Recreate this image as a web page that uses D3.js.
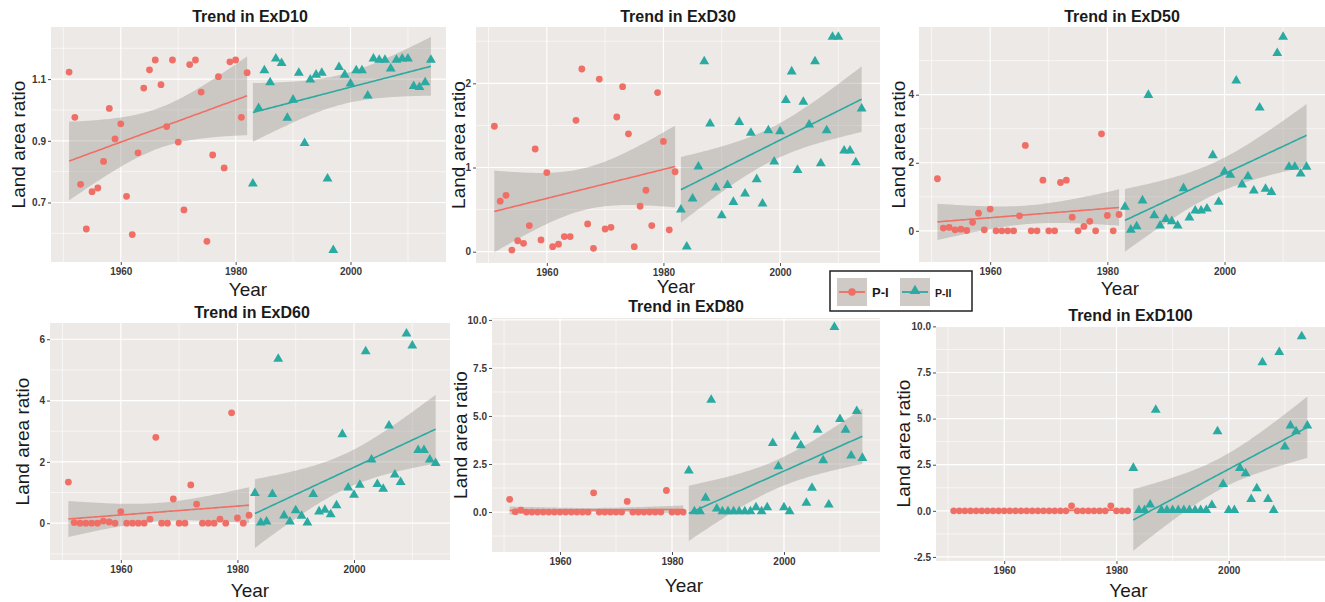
<!DOCTYPE html>
<html><head><meta charset="utf-8">
<script src="https://cdn.jsdelivr.net/npm/d3@7"></script>
<style>body{margin:0;background:#fff;} svg{display:block;font-family:"Liberation Sans",Arial,sans-serif;}</style>
</head><body>
<svg id="chart" width="1325" height="602"></svg>
<script>
// ---------- data ----------
const yearsPI  = [1951,1952,1953,1954,1955,1956,1957,1958,1959,1960,1961,1962,1963,1964,1965,1966,1967,1968,1969,1970,1971,1972,1973,1974,1975,1976,1977,1978,1979,1980,1981,1982];
const yearsPII = [1983,1984,1985,1986,1987,1988,1989,1990,1991,1992,1993,1994,1995,1996,1997,1998,1999,2000,2001,2002,2003,2004,2005,2006,2007,2008,2009,2010,2011,2012,2013,2014];

const exd10PI  = [1.123,0.976,0.759,0.614,0.735,0.747,0.833,1.005,0.906,0.955,0.720,0.596,0.861,1.071,1.130,1.162,1.082,0.946,1.162,0.896,0.676,1.147,1.162,1.058,0.574,0.854,1.108,0.812,1.156,1.162,0.976,1.121];
const exd10PII = [0.761,1.006,1.128,1.089,1.166,1.152,0.974,1.033,1.120,0.892,1.098,1.114,1.120,0.777,0.545,1.139,1.114,1.085,1.128,1.128,1.046,1.166,1.162,1.162,1.134,1.162,1.166,1.166,1.077,1.074,1.089,1.162];

const exd30PI  = [1.49,0.60,0.67,0.02,0.13,0.10,0.31,1.22,0.14,0.94,0.06,0.09,0.18,0.18,1.56,2.17,0.33,0.04,2.05,0.27,0.29,1.60,1.96,1.40,0.06,0.54,0.73,0.31,1.89,1.31,0.26,0.95];
const exd30PII = [0.50,0.06,0.63,1.01,2.26,1.52,0.76,0.43,0.79,0.59,1.54,0.69,1.41,0.86,0.57,1.44,1.07,1.43,1.80,2.14,0.97,1.78,1.51,2.26,1.05,1.44,2.55,2.55,1.20,1.20,1.06,1.70];

const exd50PI  = [1.53,0.08,0.10,0.03,0.05,0.01,0.25,0.52,0.03,0.64,0,0,0,0,0.44,2.51,0,0,1.49,0,0,1.42,1.49,0.40,0,0.13,0.28,0,2.85,0.45,0,0.48];
const exd50PII = [0.70,0.03,0.13,0.89,3.99,0.45,0.15,0.34,0.28,0.15,1.25,0.39,0.59,0.59,0.65,2.22,0.85,1.74,1.64,4.41,1.36,1.60,1.18,3.62,1.23,1.14,5.22,5.70,1.88,1.88,1.68,1.88];

const exd60PI  = [1.34,0.02,0,0,0,0,0.07,0.04,0,0.38,0,0,0,0,0.13,2.80,0,0,0.79,0,0,1.25,0.62,0,0,0,0.13,0,3.60,0.17,0,0.26];
const exd60PII = [0.98,0.02,0.05,0.95,5.36,0.25,0.05,0.42,0.24,0.02,0.95,0.38,0.43,0.29,0.58,2.90,1.16,0.92,1.25,5.60,2.07,1.27,1.12,3.18,1.58,1.34,6.18,5.79,2.38,2.38,2.07,1.96];

const exd80PI  = [0.66,0.02,0.10,0,0,0,0,0,0,0,0,0,0,0,0,1.00,0,0,0,0,0,0.55,0,0,0,0,0,0,1.12,0,0,0];
const exd80PII = [2.15,0.03,0.03,0.73,5.84,0.17,0.03,0.03,0.03,0.03,0.03,0.03,0.24,0.03,0.24,3.59,2.37,0.24,0.03,3.93,3.47,0.47,1.25,4.28,2.69,0.38,9.62,4.83,4.28,2.93,5.25,2.81];

const exd100PI  = [0,0,0,0,0,0,0,0,0,0,0,0,0,0,0,0,0,0,0,0,0,0.27,0,0,0,0,0,0,0.27,0,0,0];
const exd100PII = [2.32,0.03,0.03,0.33,5.47,0.03,0.03,0.03,0.03,0.03,0.03,0.03,0.03,0.03,0.31,4.31,1.45,0.03,0.03,2.32,2.03,0.63,1.21,8.04,0.63,0.03,8.60,3.48,4.62,4.31,9.46,4.62];

const titles = ["Trend in ExD10","Trend in ExD30","Trend in ExD50","Trend in ExD60","Trend in ExD80","Trend in ExD100"];
const seriesPI  = [exd10PI, exd30PI, exd50PI, exd60PI, exd80PI, exd100PI];
const seriesPII = [exd10PII, exd30PII, exd50PII, exd60PII, exd80PII, exd100PII];
const yTicks = [[0.7,0.9,1.1],[0,1,2],[0,2,4],[0,2,4,6],[0,2.5,5,7.5,10],[-2.5,0,2.5,5,7.5,10]];
const yTickLabels = [["0.7","0.9","1.1"],["0","1","2"],["0","2","4"],["0","2","4","6"],["0.0","2.5","5.0","7.5","10.0"],["-2.5","0.0","2.5","5.0","7.5","10.0"]];
const yLimits = [[0.507,1.269],[-0.134,2.669],[-0.916,5.99],[-1.2,6.53],[-2.08,10.1],[-2.72,10.02]];
const xTicks = [1960,1980,2000];
const xMinor = [1950,1970,1990,2010];
const xLimits = [1947.85,2017.15];
const groupNames = ["P-I","P-II"];

// ---------- styles / layout ----------
const RED = "#EF6F66", TEAL = "#2BAAA2", BG = "#ECE9E6", RIB = "#9a948f";
const layout = [
  {l:51,  r:449, vis:446, t:27,  b:262, titleY:22,  tickY:275, yearY:296, ylabX:18},
  {l:476, r:880, vis:880, t:27,  b:263, titleY:22,  tickY:275, yearY:293, ylabX:458},
  {l:919, r:1325,vis:1325,t:27,  b:262, titleY:22,  tickY:275, yearY:295, ylabX:898},
  {l:50,  r:454, vis:450, t:323, b:560, titleY:318, tickY:572, yearY:597, ylabX:22},
  {l:492, r:880, vis:880, t:318, b:552, titleY:312, tickY:565, yearY:592, ylabX:460},
  {l:936, r:1325,vis:1325,t:326, b:561, titleY:321, tickY:574, yearY:597, ylabX:903}
];

const svg = d3.select("#chart");

function lmFit(xs, ys){
  const n = xs.length, xb = d3.mean(xs), yb = d3.mean(ys);
  let sxx=0, sxy=0; xs.forEach((x,i)=>{sxx+=(x-xb)**2; sxy+=(x-xb)*(ys[i]-yb);});
  const b = sxy/sxx, a = yb - b*xb;
  let sse=0; xs.forEach((x,i)=>{sse+=(ys[i]-a-b*x)**2;});
  const s = Math.sqrt(sse/(n-2)), t = 2.042;
  const xmin = d3.min(xs), xmax = d3.max(xs);
  const pts = [];
  for(let k=0;k<80;k++){
    const x = xmin + (xmax-xmin)*k/79;
    const yh = a + b*x, se = s*Math.sqrt(1/n + (x-xb)**2/sxx);
    pts.push({x, y:yh, lo:yh - t*se, hi:yh + t*se});
  }
  return pts;
}

titles.forEach((title, i) => {
  const L = layout[i];
  const x = d3.scaleLinear().domain(xLimits).range([L.l, L.r]);
  const y = d3.scaleLinear().domain(yLimits[i]).range([L.b, L.t]);
  const g = svg.append("g");
  const cid = "clip"+i;
  g.append("clipPath").attr("id",cid).append("rect")
    .attr("x",L.l).attr("y",L.t).attr("width",L.vis-L.l).attr("height",L.b-L.t);
  const pg = g.append("g").attr("clip-path",`url(#${cid})`);
  pg.append("rect").attr("x",L.l).attr("y",L.t).attr("width",L.vis-L.l).attr("height",L.b-L.t).attr("fill",BG);

  // minor grid
  const [y0,y1] = yLimits[i];
  const tk = yTicks[i], step = tk[1]-tk[0];
  const yMinor = [];
  for(let k=-1;k<tk.length;k++){ const v = tk[0]+step*(k+0.5); if(v>y0 && v<y1) yMinor.push(v); }
  pg.selectAll(".ymin").data(yMinor).enter().append("line")
    .attr("x1",L.l).attr("x2",L.r).attr("y1",d=>y(d)).attr("y2",d=>y(d))
    .attr("stroke","#fff").attr("stroke-width",0.6);
  pg.selectAll(".xmin").data(xMinor).enter().append("line")
    .attr("y1",L.t).attr("y2",L.b).attr("x1",d=>x(d)).attr("x2",d=>x(d))
    .attr("stroke","#fff").attr("stroke-width",0.6);
  pg.selectAll(".ymaj").data(tk).enter().append("line")
    .attr("x1",L.l).attr("x2",L.r).attr("y1",d=>y(d)).attr("y2",d=>y(d))
    .attr("stroke","#fff").attr("stroke-width",1.2);
  pg.selectAll(".xmaj").data(xTicks).enter().append("line")
    .attr("y1",L.t).attr("y2",L.b).attr("x1",d=>x(d)).attr("x2",d=>x(d))
    .attr("stroke","#fff").attr("stroke-width",1.2);

  const groups = [
    {years:yearsPI, vals:seriesPI[i], color:RED, shape:"circle"},
    {years:yearsPII, vals:seriesPII[i], color:TEAL, shape:"triangle"}
  ];
  const fits = groups.map(gr => lmFit(gr.years, gr.vals));
  // ribbons
  fits.forEach(f => {
    pg.append("path").datum(f)
      .attr("d", d3.area().x(d=>x(d.x)).y0(d=>y(d.lo)).y1(d=>y(d.hi)))
      .attr("fill",RIB).attr("fill-opacity",0.4);
  });
  // points
  groups.forEach(gr => {
    const data = gr.years.map((yr,k)=>({yr, v:gr.vals[k]}));
    if(gr.shape==="circle"){
      pg.selectAll(null).data(data).enter().append("circle")
        .attr("cx",d=>x(d.yr)).attr("cy",d=>y(d.v)).attr("r",3.4).attr("fill",gr.color);
    } else {
      const sym = d3.symbol().type(d3.symbolTriangle).size(42);
      pg.selectAll(null).data(data).enter().append("path")
        .attr("d",sym).attr("transform",d=>`translate(${x(d.yr)},${y(d.v)})`).attr("fill",gr.color);
    }
  });
  // lines
  fits.forEach((f,k) => {
    pg.append("path").datum(f)
      .attr("d", d3.line().x(d=>x(d.x)).y(d=>y(d.y)))
      .attr("fill","none").attr("stroke",groups[k].color).attr("stroke-width",1.6);
  });

  // axes
  const yAxis = d3.axisLeft(y).tickValues(tk).tickFormat((d,k)=>yTickLabels[i][k]).tickSize(3).tickPadding(2);
  const ya = g.append("g").attr("transform",`translate(${L.l},0)`).call(yAxis);
  const xAxis = d3.axisBottom(x).tickValues(xTicks).tickFormat(d3.format("d")).tickSize(3).tickPadding(3);
  const xa = g.append("g").attr("transform",`translate(0,${L.b})`).call(xAxis);
  [ya,xa].forEach(a=>{
    a.select(".domain").remove();
    a.selectAll(".tick line").attr("stroke","#4d4d4d");
    a.selectAll(".tick text").attr("fill","#3d3838").style("font-size","10px").style("font-weight","bold")
      .style("font-family","'Liberation Sans',Arial,sans-serif");
  });

  // titles
  g.append("text").attr("x",(L.l+L.r)/2).attr("y",L.titleY).attr("text-anchor","middle")
    .style("font-size","16px").style("font-weight","bold").attr("fill","#1a1a1a").text(title);
  g.append("text").attr("x",(L.l+L.r)/2 - 2).attr("y",L.yearY).attr("text-anchor","middle")
    .style("font-size","19px").attr("fill","#1a1a1a").text("Year");
  g.append("text").attr("transform",`translate(${L.ylabX + 7},${(L.t+L.b)/2}) rotate(-90)`)
    .attr("text-anchor","middle").style("font-size","19px").attr("fill","#1a1a1a").text("Land area ratio");
});

// legend
const lg = svg.append("g");
lg.append("rect").attr("x",830).attr("y",271).attr("width",142).attr("height",40)
  .attr("fill","#fff").attr("stroke","#222").attr("stroke-width",1.5);
const keys = [{name:groupNames[0], color:RED, shape:"circle", kx:837, tx:872, fs:13},
              {name:groupNames[1], color:TEAL, shape:"triangle", kx:900, tx:935, fs:10.5}];
keys.forEach(k => {
  lg.append("rect").attr("x",k.kx).attr("y",278).attr("width",30).attr("height",28).attr("fill","#CFCAC6");
  lg.append("line").attr("x1",k.kx+2).attr("x2",k.kx+28).attr("y1",292).attr("y2",292)
    .attr("stroke",k.color).attr("stroke-width",1.8);
  if(k.shape==="circle") lg.append("circle").attr("cx",k.kx+15).attr("cy",292).attr("r",3.8).attr("fill",k.color);
  else lg.append("path").attr("d",d3.symbol().type(d3.symbolTriangle).size(50)).attr("transform",`translate(${k.kx+15},291)`).attr("fill",k.color);
  lg.append("text").attr("x",k.tx).attr("y",297).style("font-size",k.fs+"px").style("font-weight","bold")
    .attr("fill","#1a1a1a").text(k.name);
});
</script>
</body></html>
